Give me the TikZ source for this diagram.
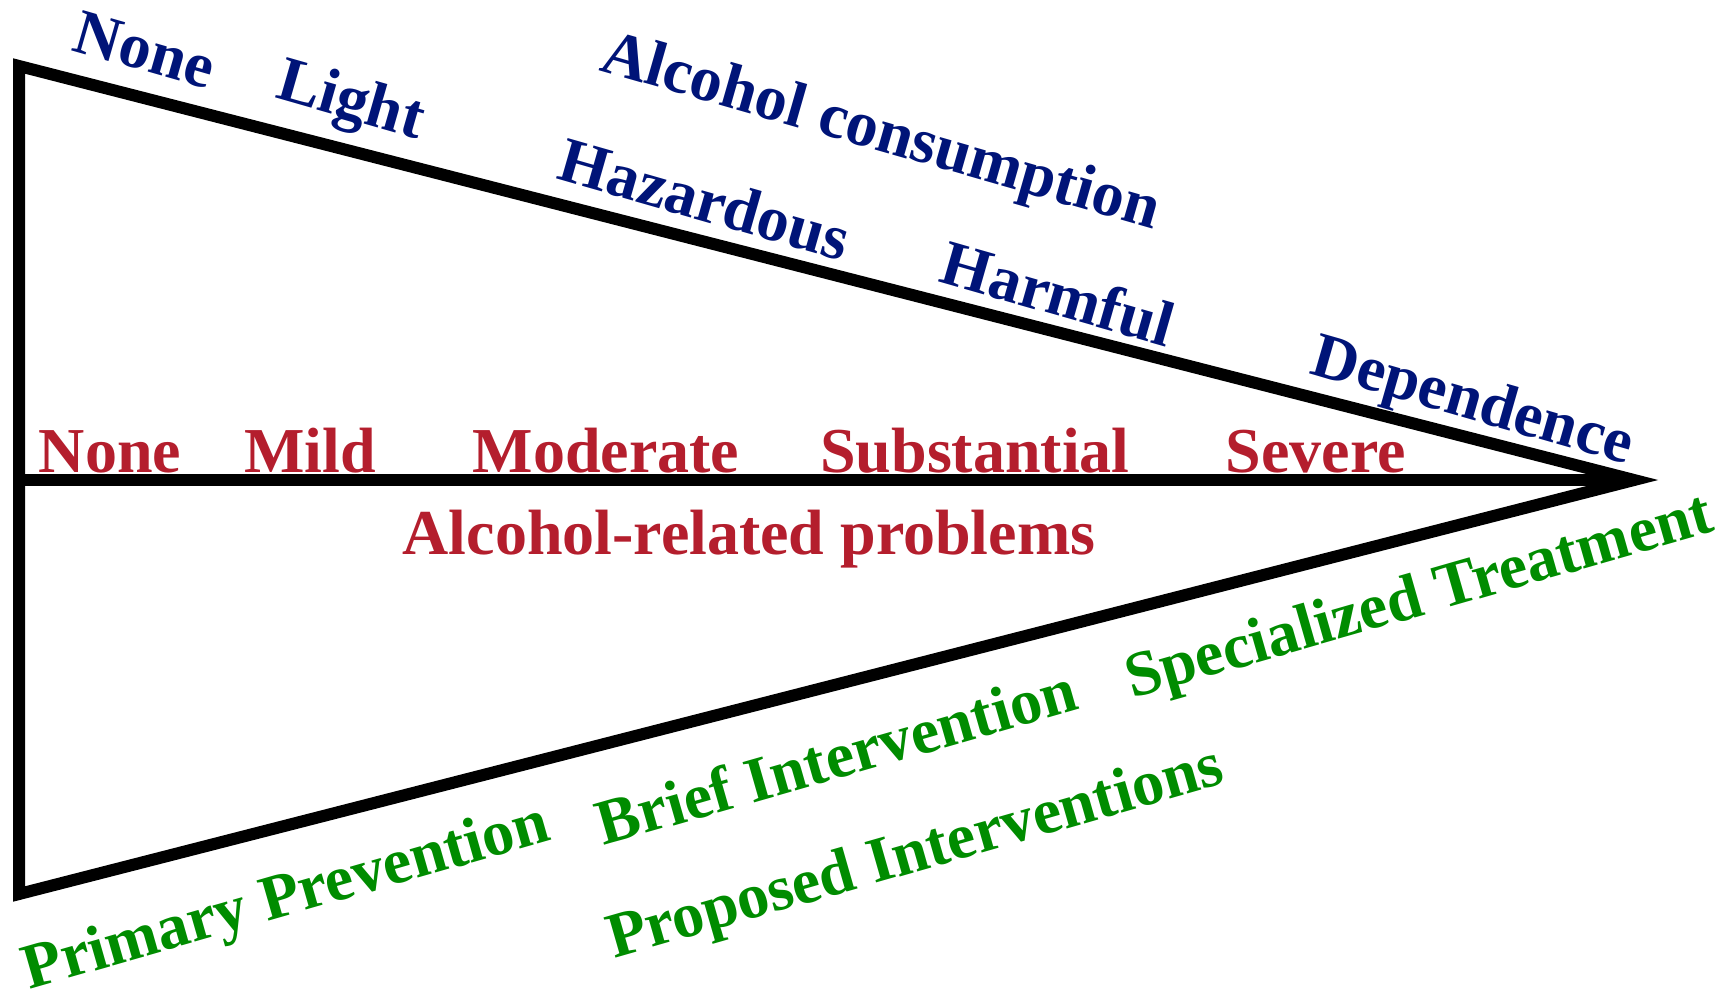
\documentclass[tikz,border=0pt]{standalone}
\usepackage{fontspec}
\setmainfont{Liberation Serif}
\definecolor{cblue}{RGB}{0,20,120}
\definecolor{cred}{RGB}{180,30,45}
\definecolor{cgreen}{RGB}{0,140,0}
\begin{document}
\begin{tikzpicture}[x=1pt,y=-1pt,
  lbl/.style={font=\fontsize{64}{64}\selectfont\bfseries, inner sep=0pt},
  cons/.style={lbl, text=cblue, rotate=-16},
  prob/.style={lbl, text=cred, anchor=base},
  intv/.style={lbl, text=cgreen, rotate=16},
  frame/.style={line width=12pt, line join=miter, black}]
\useasboundingbox (0,0) rectangle (1731,991);
\coordinate (A) at (19,66);
\coordinate (P) at (1634,480);
\coordinate (B) at (19,894);
\coordinate (M) at (19,480);
\draw[frame] (A) -- (P) -- (B) -- cycle;
\draw[frame] (M) -- (P);
% consumption
\node[cons] (c1) at (145,50) {None};
\node[cons] (c2) at (350,104) {Light};
\node[cons] (c3) at (880,135) {Alcohol consumption};
\node[cons] (c4) at (705,199) {Hazardous};
\node[cons] (c5) at (1058,293) {Harmful};
\node[cons] (c6) at (1472,404) {Dependence};
% problems
\node[prob] (p1) at (110,472) {None};
\node[prob] (p2) at (310,472) {Mild};
\node[prob] (p3) at (606,472) {Moderate};
\node[prob] (p4) at (975,472) {Substantial};
\node[prob] (p5) at (1316,472) {Severe};
\node[prob] (p6) at (749,554) {Alcohol-related problems};
% interventions
\node[intv] (i1) at (287,900) {Primary Prevention};
\node[intv] (i2) at (836,756) {Brief Intervention};
\node[intv] (i3) at (1420,600) {Specialized Treatment};
\node[intv] (i4) at (916,856) {Proposed Interventions};
\end{tikzpicture}
\end{document}
